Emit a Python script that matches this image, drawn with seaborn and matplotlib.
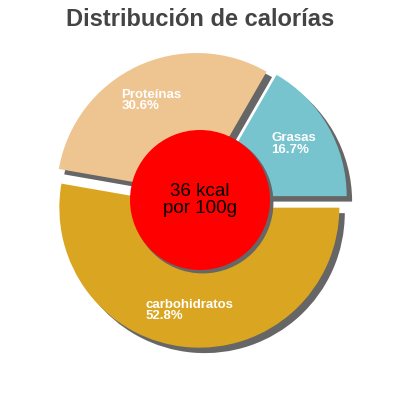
import matplotlib
matplotlib.use("Agg")
import matplotlib.pyplot as plt
from matplotlib.patches import Circle, Shadow
import seaborn as sns

sns.set_theme(style="white")
plt.rcParams["font.family"] = ["Liberation Sans", "DejaVu Sans"]

# data
labels = ["Grasas", "Proteínas", "carbohidratos"]
percents = [16.7, 30.6, 52.8]
colors = ["#77c4cf", "#eec591", "#daa520"]
kcal_text = "36 kcal\npor 100g"
title = "Distribución de calorías"

# where each label block starts (left edge, vertical middle), in pie radii
label_anchor = [(0.51, 0.40), (-0.56, 0.71), (-0.39, -0.79)]

fig = plt.figure(figsize=(4, 4), dpi=100)
ax = fig.add_axes([0, 0, 1, 1])

wedges, texts = ax.pie(
    percents,
    colors=colors,
    startangle=0,
    counterclock=True,
    explode=[0.055] * len(percents),
    radius=1.0,
    center=(0, 0),
    labels=[f"{l}\n{p}%" for l, p in zip(labels, percents)],
    labeldistance=0.7,
    shadow={"ox": 0.028, "oy": -0.028, "facecolor": "#666666",
            "edgecolor": "#666666", "alpha": 1},
    wedgeprops={"linewidth": 0},
    textprops={"color": "white", "fontsize": 9.5, "fontweight": "bold"},
)
for t, pos in zip(texts, label_anchor):
    t.set_position(pos)
    t.set_ha("left")
    t.set_va("center")
    t.set_linespacing(0.95)

ax.set_aspect("equal")
lim = 200 / 140
ax.set_xlim(-lim, lim)
ax.set_ylim(-lim, lim)
ax.axis("off")

# center circle
circ = Circle((0, 0), 0.5, facecolor="#ff0000", edgecolor="none", zorder=5)
ax.add_patch(Shadow(circ, 0.014, -0.014, facecolor="#666666", edgecolor="#666666",
                    alpha=1, zorder=4.5))
ax.add_patch(circ)
ax.text(0, 0.0, kcal_text, ha="center", va="center", fontsize=13.5,
        color="black", linespacing=0.95, zorder=6)

fig.text(0.5, 0.952, title, ha="center", va="center", fontsize=17,
         fontweight="bold", color="#444444")

fig.savefig("out.png", dpi=100)
